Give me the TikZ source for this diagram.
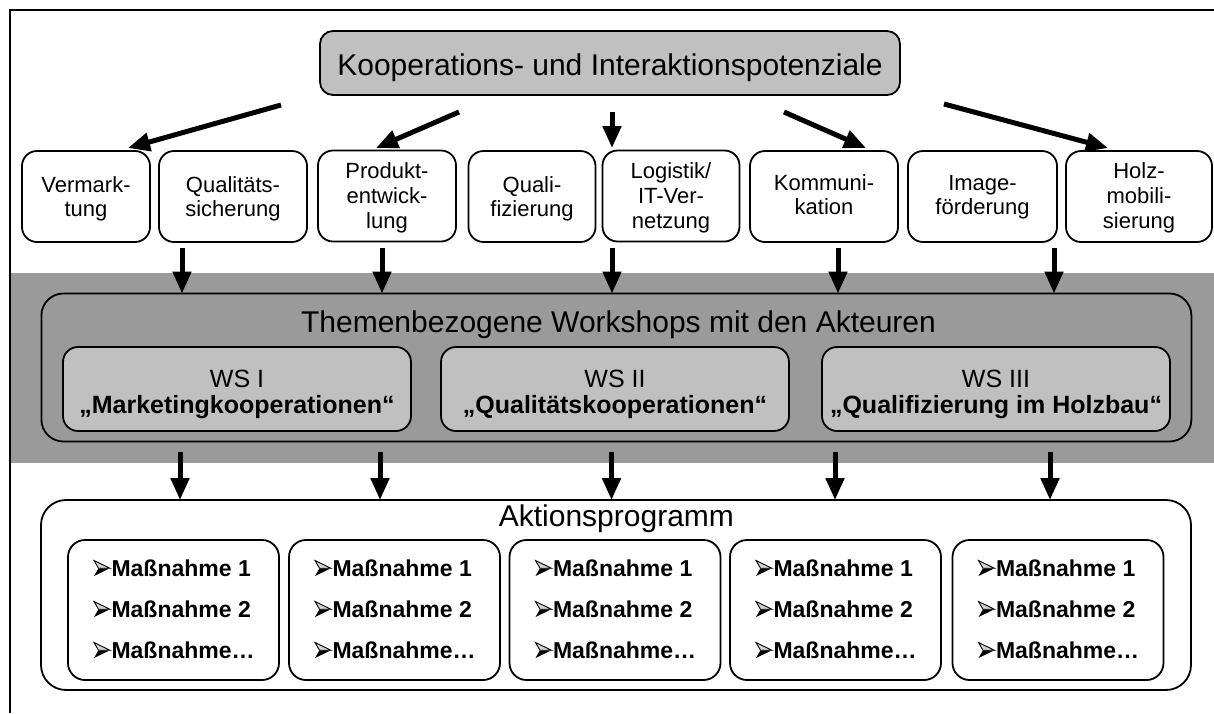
\documentclass[tikz,border=0pt]{standalone}
\usepackage{fontspec}
\setmainfont{Liberation Sans}
\usetikzlibrary{arrows.meta}
\definecolor{bandgray}{RGB}{154,154,154}
\definecolor{boxgray}{RGB}{192,192,192}
\begin{document}
\begin{tikzpicture}[x=1pt,y=-1pt,
  every node/.style={inner sep=0pt, outer sep=0pt},
  rowbox/.style={draw, line width=1.8pt, rounded corners=15pt, fill=white, minimum height=91pt},
  rowtwo/.style={anchor=base, align=center, font=\fontsize{22}{24}\selectfont},
  rowthree/.style={anchor=base, align=center, font=\fontsize{22}{25}\selectfont},
  wsbox/.style={draw, line width=1.8pt, rounded corners=15pt, fill=boxgray,
    minimum width=348pt, minimum height=84pt},
  wstext/.style={anchor=base, align=center, font=\fontsize{25}{26}\selectfont},
  mbox/.style={draw, line width=1.8pt, rounded corners=17pt, fill=white,
    minimum width=211pt, minimum height=140pt},
  mtext/.style={anchor=base west, font=\bfseries\fontsize{23}{27}\selectfont},
  bigtitle/.style={anchor=base, font=\fontsize{30}{36}\selectfont},
  bigarrow/.style={line width=5pt, -{Triangle[length=22pt,width=18pt]}}
]
\useasboundingbox (0,0) rectangle (1214,713);
\fill[white] (0,0) rectangle (1214,713);

% grey band
\fill[bandgray] (11,273) rectangle (1214,463);

% frame
\draw[line width=2.5pt] (10,713) -- (10,10) -- (1214,10);

% top box
\node[draw, line width=1.8pt, rounded corners=13pt, fill=boxgray,
  minimum width=580pt, minimum height=64pt] (top) at (610,63) {};
\node[bigtitle] (toptext) at (610,75) {Kooperations- und Interaktionspotenziale};

% second row (text nodes anchored at the baseline of their last line)
\node[rowbox, minimum width=128pt] (verm)  at (86,196.5)  {};
\node[rowbox, minimum width=148pt] (qual)  at (233,196.5) {};
\node[rowbox, minimum width=138pt] (prod)  at (387,196)   {};
\node[rowbox, minimum width=127pt] (quali) at (532,196.5) {};
\node[rowbox, minimum width=137pt] (logi)  at (671,196)   {};
\node[rowbox, minimum width=148pt] (komm)  at (824,196.5) {};
\node[rowbox, minimum width=149pt] (imag)  at (982.5,196.5) {};
\node[rowbox, minimum width=146pt] (holz)  at (1139,196.5) {};
\node[rowtwo]   (vermt)  at (86,216)    {Vermark-\\tung};
\node[rowtwo]   (qualt)  at (233,216)   {Qualitäts-\\sicherung};
\node[rowthree] (prodt)  at (387,228)   {Produkt-\\entwick-\\lung};
\node[rowtwo]   (qualit) at (532,216)   {Quali-\\fizierung};
\node[rowthree] (logit)  at (671,228)   {Logistik/\\IT-Ver-\\netzung};
\node[rowtwo]   (kommt)  at (824,214)   {Kommuni-\\kation};
\node[rowtwo]   (imagt)  at (982.5,214) {Image-\\förderung};
\node[rowthree] (holzt)  at (1139,228)  {Holz-\\mobili-\\sierung};

% arrows from top box
\coordinate (s1) at (281,105);  \coordinate (t1) at (128,148);
\coordinate (s2) at (459,112);  \coordinate (t2) at (376,148);
\coordinate (s3) at (612,112);  \coordinate (t3) at (612,148);
\coordinate (s4) at (784,112);  \coordinate (t4) at (866,148);
\coordinate (s5) at (944,104);  \coordinate (t5) at (1108,148);
\foreach \i in {1,...,5} \draw[bigarrow] (s\i) -- (t\i);

% workshops
\node[draw, line width=1.8pt, rounded corners=22pt, fill=bandgray,
  minimum width=1150pt, minimum height=148pt] (ws) at (616.4,367.5) {};
\node[bigtitle] (wstitle) at (618.5,332) {Themenbezogene Workshops mit den Akteuren};
\node[wsbox] (ws1) at (237,389) {};
\node[wsbox] (ws2) at (615,389) {};
\node[wsbox] (ws3) at (996,389) {};
\node[wstext] (ws1t) at (237,413) {WS I\\\textbf{„Marketingkooperationen“}};
\node[wstext] (ws2t) at (615,413) {WS II\\\textbf{„Qualitätskooperationen“}};
\node[wstext] (ws3t) at (996,413) {WS III\\\textbf{„Qualifizierung im Holzbau“}};

% arrows into workshops
\foreach \i/\x in {1/182,2/382,3/612,4/838,5/1054}{
  \coordinate (u\i) at (\x,248);
  \draw[bigarrow] (u\i) -- (u\i |- ws.north);
}

% Aktionsprogramm
\node[draw, line width=1.8pt, rounded corners=25pt, fill=white,
  minimum width=1150pt, minimum height=190pt] (akt) at (616,595) {};
\node[bigtitle] (akttitle) at (616.4,526) {Aktionsprogramm};

\foreach \i/\x in {1/173.5,2/394.5,3/615,4/835.5,5/1058}{
  \node[mbox] (m\i) at (\x,610) {};
  \pgfmathsetmacro{\bx}{\x-79.5}
  \pgfmathsetmacro{\tx}{\x-62}
  \foreach \j/\yb/\t in {1/576/Maßnahme 1,2/617/Maßnahme 2,3/658/Maßnahme…}{
    \fill[black] (\bx,{\yb}) -- ({\bx+16},{\yb-7.75}) -- ({\bx+4.5},{\yb-7.75}) -- cycle;
    \filldraw[fill=gray!35, draw=black, line width=0.9pt]
      (\bx,{\yb-15.5}) -- ({\bx+16},{\yb-7.75}) -- ({\bx+4.5},{\yb-7.75}) -- cycle;
    \node[mtext] (m\i t\j) at (\tx,\yb) {\t};
  }
}

% arrows into Aktionsprogramm
\foreach \i/\x in {1/180,2/380,3/611.5,4/835,5/1050}{
  \coordinate (v\i) at (\x,452);
  \draw[bigarrow] (v\i) -- (v\i |- akt.north);
}
\end{tikzpicture}
\end{document}
